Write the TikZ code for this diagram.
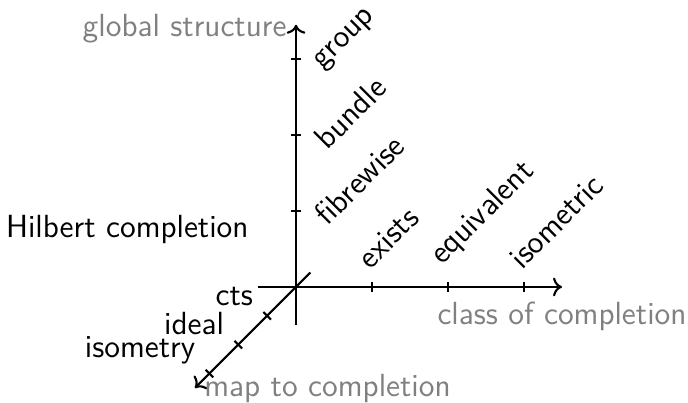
\documentclass[tikz,border=0pt]{standalone}
\usepackage{tikz}
\usetikzlibrary{positioning,arrows.meta,calc}

\begin{document}
\begin{tikzpicture}[font=\fontsize{12}{14.5}\selectfont\sffamily,
  axis/.style={thick,->},
  tickmark/.style={thick},
  ttl/.style={text=gray},
  lab/.style={inner sep=0pt, rotate=45}]
\useasboundingbox (-3.895,-1.526) rectangle (5.158,3.776);
% axes
\coordinate (O) at (0,0);
\coordinate (xs) at (-0.5,0);
\coordinate (xe) at (3.5,0);
\coordinate (ys) at (0,-0.5);
\coordinate (ye) at (0,3.45);
\coordinate (zs) at (0.19,0.19);
\coordinate (ze) at (-1.33,-1.33);
\draw[axis] (xs) -- (xe);
\draw[axis] (ys) -- (ye);
\draw[axis] (zs) -- (ze);
% class of completion
\foreach \i/\t in {1/exists,2/equivalent,3/isometric} {
  \draw[tickmark] (\i,-0.07) -- (\i,0.07);
  \node[lab, anchor=south west] (x\i) at (\i-0.02,0.21) {\t};
}
% global structure
\foreach \i/\t in {1/fibrewise,2/bundle,3/group} {
  \draw[tickmark] (-0.07,\i) -- (0.07,\i);
  \node[lab, anchor=north west] (y\i) at (0.2,\i) {\t};
}
% map to completion
\foreach \i/\t in {1/cts,2/ideal,3/isometry} {
  \coordinate (zt\i) at (-0.38*\i,-0.38*\i);
  \draw[tickmark] ($(zt\i)+(-0.05,0.05)$) -- ($(zt\i)+(0.05,-0.05)$);
  \node[anchor=south east, inner sep=0pt] (z\i) at ($(zt\i)+(-0.18,0.12)$) {\t};
}
\node[ttl, left, yshift=-0.05cm] (ytitle) at (ye) {global structure};
\node[ttl, below, yshift=-0.07cm] (xtitle) at (xe) {class of completion};
\node[ttl, right, yshift=-0.01cm] (ztitle) at (ze) {map to completion};
\node (htitle) at (-2.22,0.76) {Hilbert completion};
\end{tikzpicture}
\end{document}
